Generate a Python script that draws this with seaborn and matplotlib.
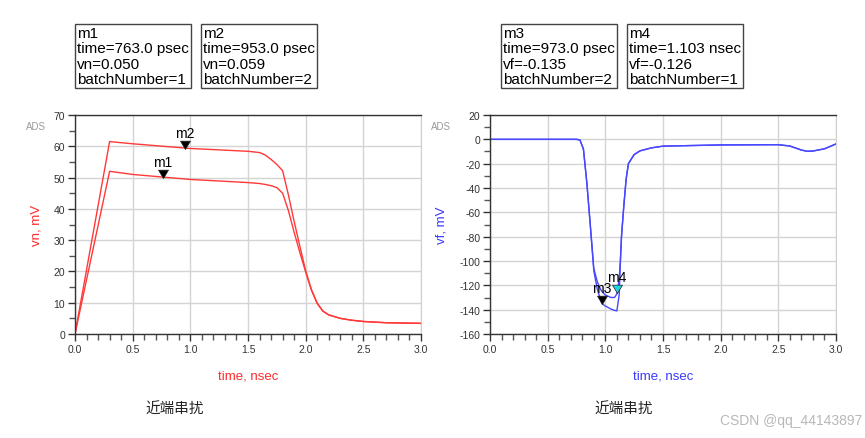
import numpy as np
import pandas as pd
import matplotlib
matplotlib.use("Agg")
import matplotlib.pyplot as plt
from matplotlib.ticker import MultipleLocator
import seaborn as sns

# near-end crosstalk vn (mV), two batches
t_vn = [0.0, 0.3, 0.5, 1.0, 1.5, 1.6, 1.65, 1.7, 1.75, 1.8, 1.85, 1.9, 1.95,
        2.0, 2.05, 2.1, 2.15, 2.2, 2.3, 2.4, 2.5, 2.7, 3.0]
vn_b1 = [0.0, 52.0, 51.0, 49.4, 48.4, 48.1, 47.8, 47.4, 46.8, 45.0, 39.5,
         32.5, 26.0, 19.8, 14.0, 9.8, 7.3, 6.1, 5.0, 4.4, 4.0, 3.6, 3.4]
vn_b2 = [0.0, 61.5, 60.8, 59.3, 58.4, 58.0, 57.2, 55.8, 54.2, 52.2, 44.5,
         36.0, 28.0, 20.2, 14.2, 9.8, 7.3, 6.1, 5.0, 4.4, 4.0, 3.6, 3.4]

# far-end crosstalk vf (mV), two batches
t_vf = [0.0, 0.75, 0.78, 0.81, 0.84, 0.87, 0.9, 0.93, 0.96, 0.97, 1.0, 1.05,
        1.08, 1.1, 1.12, 1.13, 1.14, 1.16, 1.18, 1.2, 1.25, 1.3, 1.4, 1.5,
        2.0, 2.5, 2.6, 2.7, 2.75, 2.8, 2.9, 3.0]
vf_b1 = [0.0, 0.0, -0.5, -8.0, -36.0, -71.0, -106.0, -117.0, -123.5, -125.0,
         -128.0, -130.0, -130.0, -127.0, -115.0, -100.0, -80.0, -55.0, -33.0,
         -20.0, -12.5, -9.5, -7.0, -5.6, -4.6, -4.4, -5.5, -8.8, -9.8, -9.6,
         -7.8, -3.8]
vf_b2 = [0.0, 0.0, -0.5, -8.0, -36.0, -71.0, -108.0, -123.0, -132.5, -135.0,
         -137.0, -139.5, -140.6, -141.0, -128.0, -103.0, -80.0, -55.0, -33.0,
         -20.0, -12.5, -9.5, -7.0, -5.6, -4.6, -4.4, -5.5, -8.8, -9.8, -9.6,
         -7.8, -3.8]

markers_vn = [("m1", 0.763, 50.0, "black"), ("m2", 0.953, 59.0, "black")]
markers_vf = [("m3", 0.973, -135.0, "black"), ("m4", 1.103, -126.0, "#22d3e0")]

box_texts = [
    "m1\ntime=763.0 psec\nvn=0.050\nbatchNumber=1",
    "m2\ntime=953.0 psec\nvn=0.059\nbatchNumber=2",
    "m3\ntime=973.0 psec\nvf=-0.135\nbatchNumber=2",
    "m4\ntime=1.103 nsec\nvf=-0.126\nbatchNumber=1",
]
box_x = [75, 201, 501, 627]

caption = "近端串扰"

sns.set_style("white")
plt.rcParams["font.family"] = ["Liberation Sans", "DejaVu Sans"]

df_vn = pd.DataFrame({
    "time": t_vn + t_vn,
    "v": vn_b1 + vn_b2,
    "batch": ["1"] * len(t_vn) + ["2"] * len(t_vn),
})
df_vf = pd.DataFrame({
    "time": t_vf + t_vf,
    "v": vf_b1 + vf_b2,
    "batch": ["1"] * len(t_vf) + ["2"] * len(t_vf),
})

W, H = 865, 439
fig = plt.figure(figsize=(W / 100, H / 100), dpi=100)
ax1 = fig.add_axes([75 / W, (H - 335) / H, 346 / W, 219 / H])
ax2 = fig.add_axes([490 / W, (H - 335) / H, 346 / W, 219 / H])

red = "#ff3838"
blue = "#4848ff"
sns.lineplot(data=df_vn, x="time", y="v", hue="batch", palette=[red, red],
             linewidth=1.0, legend=False, ax=ax1)
sns.lineplot(data=df_vf, x="time", y="v", hue="batch", palette=[blue, blue],
             linewidth=1.0, legend=False, ax=ax2)

tri = [(0, 0), (-1.2, 2), (1.2, 2), (0, 0)]


def style_axes(ax, ylim, ymaj, ymin, ylabel, color, ylab_x, ads_x):
    ax.set_xlim(0, 3)
    ax.set_ylim(*ylim)
    ax.xaxis.set_major_locator(MultipleLocator(0.5))
    ax.xaxis.set_minor_locator(MultipleLocator(0.1))
    ax.yaxis.set_major_locator(MultipleLocator(ymaj))
    ax.yaxis.set_minor_locator(MultipleLocator(ymin))
    ax.xaxis.set_major_formatter(plt.FuncFormatter(lambda v, p: f"{v:.1f}"))
    ax.yaxis.set_major_formatter(plt.FuncFormatter(lambda v, p: f"{v:.0f}"))
    ax.grid(True, which="major", color="#d4d4d4", linewidth=1.0)
    ax.set_axisbelow(True)
    ax.tick_params(axis="both", which="major", direction="out", length=5,
                   width=1, color="#333333", labelsize=7.5,
                   labelcolor="#333333", pad=2, bottom=True, left=True)
    ax.tick_params(axis="both", which="minor", direction="out", length=4,
                   width=1, color="#555555", bottom=True, left=True)
    for side in ["left", "bottom", "top"]:
        ax.spines[side].set_color("#333333")
        ax.spines[side].set_linewidth(1.0)
    ax.spines["right"].set_color("#cfcfcf")
    ax.set_xlabel("time, nsec", color=color, fontsize=9.5)
    ax.set_ylabel(ylabel, color=color, fontsize=9.5)
    ax.xaxis.set_label_coords(0.5, -0.16)
    ax.yaxis.set_label_coords(ylab_x, 0.5)
    ax.text(ads_x, 0.95, "ADS", transform=ax.transAxes, fontsize=7,
            color="#9a9a9a", ha="center", va="center")


style_axes(ax1, (0, 70), 10, 5, "vn, mV", "#ff2a2a", -0.095, -0.113)
style_axes(ax2, (-160, 20), 20, 10, "vf, mV", "#3a3aff", -0.124, -0.142)

for ax, marks in [(ax1, markers_vn), (ax2, markers_vf)]:
    for name, t, v, c in marks:
        ax.plot([t], [v], marker=tri, markersize=12, color=c,
                markeredgecolor="#222222", markeredgewidth=0.5, zorder=5)
        ax.annotate(name, (t, v), xytext=(0, 6.5), textcoords="offset points",
                    ha="center", va="bottom", fontsize=10, color="black",
                    zorder=6)

for x, txt in zip(box_x, box_texts):
    fig.text((x + 2) / W, 1 - 27 / H, txt, ha="left", va="top", fontsize=11,
             linespacing=1.12, color="black",
             bbox=dict(boxstyle="square,pad=0.12", fc="white", ec="#444444",
                       lw=1.0))

for cx in [175, 624]:
    fig.text(cx / W, 1 - 410 / H, caption, ha="center", va="center",
             fontsize=10.5, color="#222222",
             family=["Noto Sans CJK SC", "DejaVu Sans"])

fig.text(862 / W, 1 - 421 / H, "CSDN @qq_44143897", ha="right", va="center",
         fontsize=10, color="#b8b8b8")

fig.savefig("out.png", dpi=100)
